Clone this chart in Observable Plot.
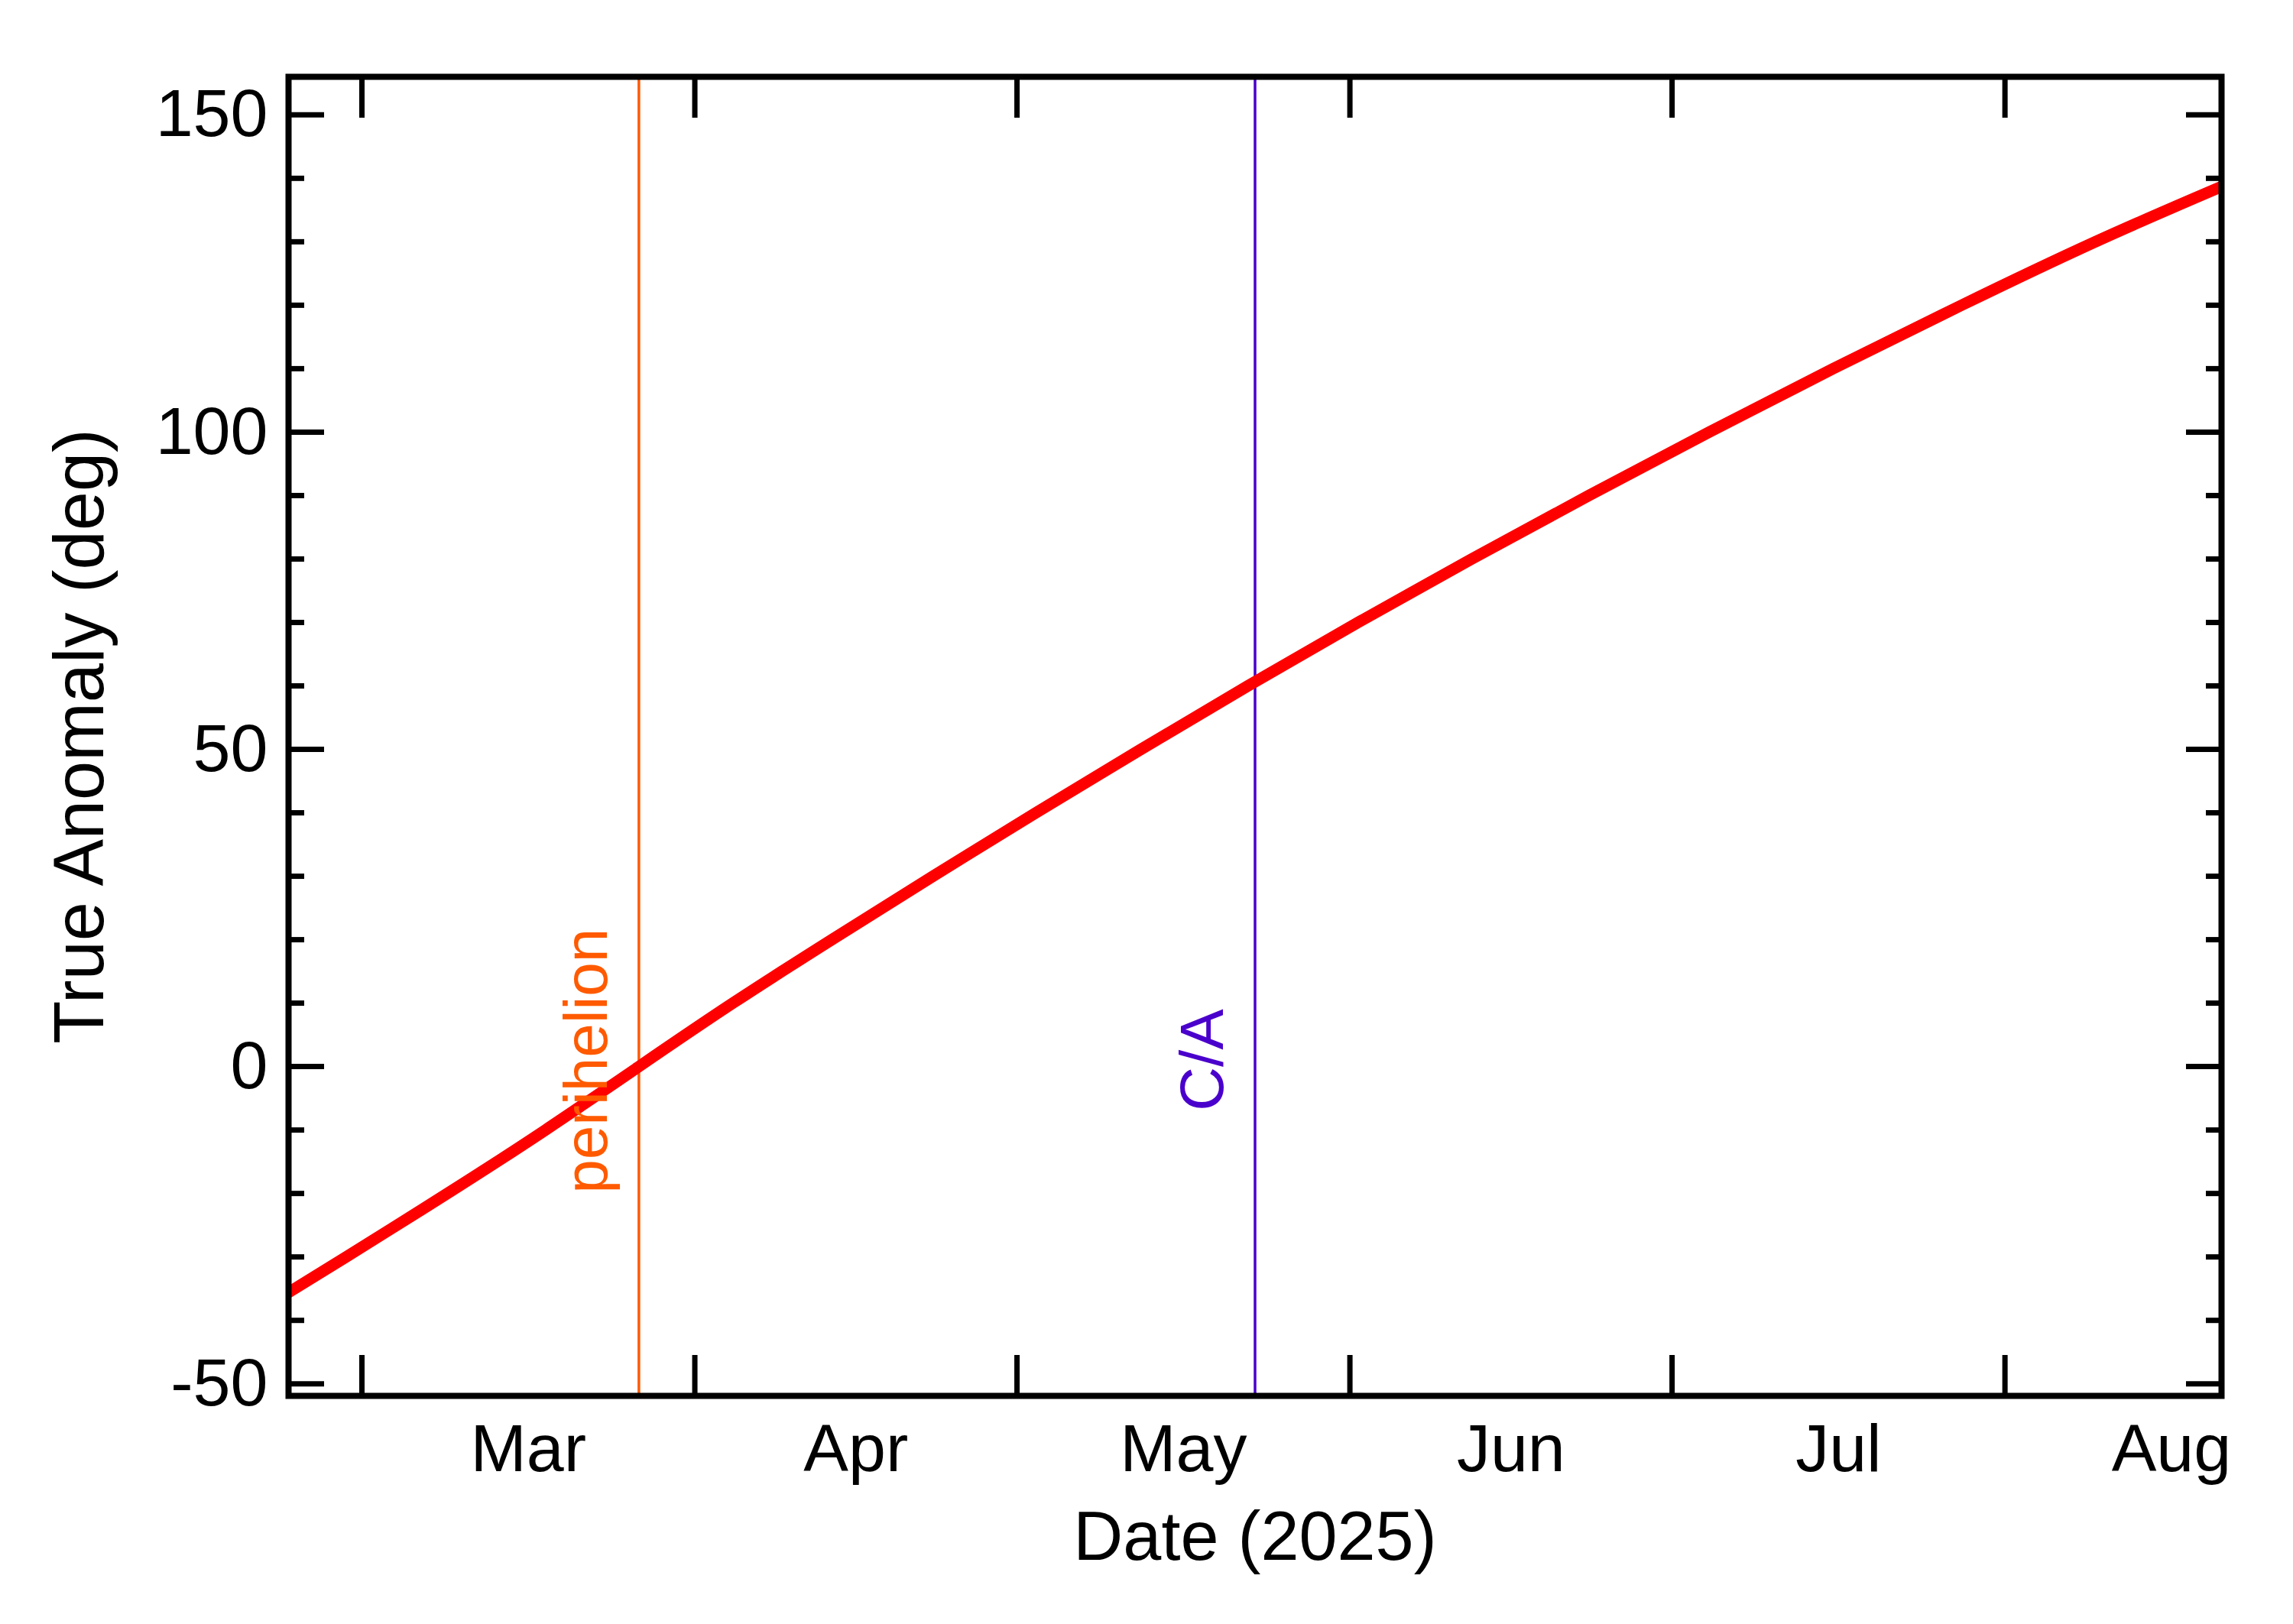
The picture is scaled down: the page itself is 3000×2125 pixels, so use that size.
<!DOCTYPE html>
<html>
<head>
<meta charset="utf-8">
<script src="https://cdn.jsdelivr.net/npm/d3@7"></script>
<script src="https://cdn.jsdelivr.net/npm/@observablehq/plot@0.6"></script>
<style>
  html, body { margin: 0; padding: 0; background: #ffffff; }
  #chart svg { display: block; }
</style>
</head>
<body>
<div id="chart"></div>
<script>
// ---- data ----
const curveDates = [
  "2025-02-22T04:00Z", "2025-02-27T13:00Z", "2025-03-08T23:00Z", "2025-03-18T02:00Z",
  "2025-03-26T19:00Z", "2025-04-04T13:00Z", "2025-04-13T18:00Z", "2025-04-23T04:00Z",
  "2025-05-02T18:00Z", "2025-05-12T13:00Z", "2025-05-22T12:00Z", "2025-06-01T18:00Z",
  "2025-06-12T08:00Z", "2025-06-23T06:00Z", "2025-07-04T11:00Z", "2025-07-16T00:00Z",
  "2025-07-27T23:00Z", "2025-08-09T10:00Z", "2025-08-21T04:00Z"
];
const trueAnomaly = [
  -35.6, -30, -20, -10,
  0, 10, 20, 30,
  40, 50, 60, 70,
  80, 90, 100, 110,
  120, 130, 138.7
];

const xDomain = ["2025-02-22T04:00Z", "2025-08-21T04:00Z"];
const yDomain = [-51.9, 156.0];

const monthStarts = ["2025-03-01", "2025-04-01", "2025-05-01", "2025-06-01", "2025-07-01", "2025-08-01"];
const monthMids   = ["2025-03-16T12:00Z", "2025-04-16T00:00Z", "2025-05-16T12:00Z", "2025-06-16T00:00Z", "2025-07-16T12:00Z", "2025-08-16T12:00Z"];
const monthLabels = ["Mar", "Apr", "May", "Jun", "Jul", "Aug"];

const yMajor = [-50, 0, 50, 100, 150];
const yMinor = [-40, -30, -20, -10, 10, 20, 30, 40, 60, 70, 80, 90, 110, 120, 130, 140];

const eventNames  = ["perihelion", "C/A"];
const eventDates  = ["2025-03-26T19:00Z", "2025-05-23T04:00Z"];
const eventLabelY = [-20, -7];
const eventColors = ["#ff5a00", "#4a00cc"];

const xTitle = "Date (2025)";
const yTitle = "True Anomaly (deg)";

// ---- build tables ----
const series = curveDates.map((d, i) => ({date: new Date(d), value: trueAnomaly[i]}));
const events = eventNames.map((n, i) => ({name: n, date: new Date(eventDates[i]), ly: eventLabelY[i], color: eventColors[i]}));
const starts = monthStarts.map(d => new Date(d + "T00:00Z"));
const mids = monthMids.map(d => new Date(d));

const FONT = "'Liberation Sans', Arial, Helvetica, sans-serif";
const noText = () => "";

const chart = Plot.plot({
  width: 3000,
  height: 2125,
  marginLeft: 377,
  marginRight: 94,
  marginTop: 100,
  marginBottom: 299,
  style: {fontFamily: FONT, background: "#ffffff", color: "#000000"},
  x: {type: "utc", domain: xDomain.map(d => new Date(d))},
  y: {domain: yDomain},
  color: {type: "identity"},
  marks: [
    // event lines
    Plot.ruleX(events, {x: "date", stroke: "color", strokeWidth: 3.5}),
    // curve
    Plot.line(series, {x: "date", y: "value", stroke: "#ff0000", strokeWidth: 15, curve: "natural", clip: true}),
    // event labels
    Plot.text(events, {x: "date", y: "ly", text: "name", fill: "color", rotate: -90,
      textAnchor: "start", lineAnchor: "bottom", dx: -42, fontSize: 80}),
    // x ticks (inward) bottom and top
    Plot.axisX(starts, {anchor: "bottom", tickSize: -53, strokeWidth: 7, tickFormat: noText, label: null}),
    Plot.axisX(starts, {anchor: "top", tickSize: -53, strokeWidth: 7, tickFormat: noText, label: null}),
    // month labels
    Plot.axisX(mids, {anchor: "bottom", tickSize: 0, tickPadding: 36, fontSize: 88,
      tickFormat: (d, i) => monthLabels[i], label: null}),
    // y ticks (inward) left and right
    Plot.axisY(yMajor, {anchor: "left", tickSize: -47, strokeWidth: 7, tickFormat: noText, label: null}),
    Plot.axisY(yMinor, {anchor: "left", tickSize: -21, strokeWidth: 7, tickFormat: noText, label: null}),
    Plot.axisY(yMajor, {anchor: "right", tickSize: -47, strokeWidth: 7, tickFormat: noText, label: null}),
    Plot.axisY(yMinor, {anchor: "right", tickSize: -21, strokeWidth: 7, tickFormat: noText, label: null}),
    // y labels
    Plot.axisY(yMajor, {anchor: "left", tickSize: 0, tickPadding: 27, fontSize: 88,
      tickFormat: d => String(d), label: null}),
    // axis titles
    Plot.text([xTitle], {frameAnchor: "bottom", dy: 214, lineAnchor: "bottom", textAnchor: "middle", fontSize: 90, fill: "#000000"}),
    Plot.text([yTitle], {frameAnchor: "left", dx: -243, rotate: -90, lineAnchor: "bottom", textAnchor: "middle", fontSize: 92, fill: "#000000"}),
    // frame
    Plot.frame({stroke: "#000000", strokeWidth: 8})
  ]
});

document.getElementById("chart").appendChild(chart);
</script>
</body>
</html>
